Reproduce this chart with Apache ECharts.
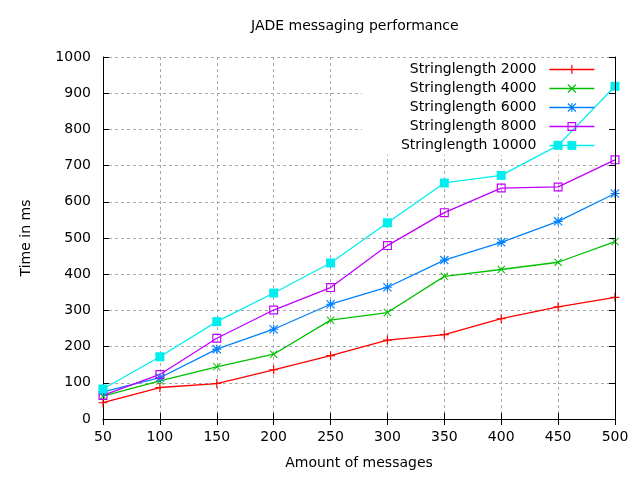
<!DOCTYPE html>
<html>
<head>
<meta charset="utf-8">
<script src="https://cdn.jsdelivr.net/npm/echarts@6/dist/echarts.min.js"></script>
<style>
html, body { margin: 0; padding: 0; background: #fff; }
#chart { width: 640px; height: 480px; }
</style>
</head>
<body>
<div id="chart"></div>
<script>
// message counts on the x axis
var messages = [50, 100, 150, 200, 250, 300, 350, 400, 450, 500];

// time in ms for each string length
var len2000  = [45, 87, 98, 136, 175, 218, 233, 277, 310, 336];
var len4000  = [63, 105, 144, 179, 273, 294, 394, 413, 433, 490];
var len6000  = [75, 114, 193, 248, 317, 364, 439, 488, 546, 623];
var len8000  = [65, 123, 223, 301, 363, 479, 570, 638, 641, 716];
var len10000 = [83, 172, 269, 348, 431, 542, 652, 673, 756, 919];

var seriesNames = ['Stringlength 2000', 'Stringlength 4000', 'Stringlength 6000',
                   'Stringlength 8000', 'Stringlength 10000'];

var FONT = 'DejaVu Sans';

// gnuplot style point shapes
var P = 'M8.7,0h2.6v20h-2.6z M0,8.7h20v2.6h-20z';
var X = 'M0,1.8L1.8,0L20,18.2L18.2,20Z M18.2,0L20,1.8L1.8,20L0,18.2Z';
var PLUS = 'path://' + P;
var CROSS = 'path://' + X;
var STAR = 'path://' + P + ' ' + X;
var BOX = 'path://M0,0H20V20H0Z M2.6,2.6V17.4H17.4V2.6Z';

function pairs(ys) {
    return messages.map(function (x, i) { return [x, ys[i]]; });
}

function makeLine(name, ys, color, symbol, size) {
    return {
        name: name,
        type: 'line',
        data: pairs(ys),
        symbol: symbol,
        symbolSize: size,
        showSymbol: true,
        xAxisIndex: 0,
        yAxisIndex: 0,
        lineStyle: { color: color, width: 1.3 },
        itemStyle: { color: color, borderWidth: 0 },
        emphasis: { disabled: true },
        z: 2
    };
}

var myChart = echarts.init(document.getElementById('chart'));

var option = {
    animation: false,
    backgroundColor: '#fff',
    title: {
        text: 'JADE messaging performance',
        left: 251,
        top: 19,
        padding: 0,
        textStyle: { fontFamily: FONT, fontSize: 14, fontWeight: 'normal', color: '#000' }
    },
    grid: { left: 103, right: 25, top: 57, bottom: 61 },
    legend: {
        orient: 'vertical',
        align: 'right',
        right: 45,
        top: 60,
        padding: 0,
        itemGap: 0,
        itemWidth: 45,
        itemHeight: 11,
        data: seriesNames,
        lineStyle: { width: 1.3 },
        textStyle: { fontFamily: FONT, fontSize: 14, color: '#000', lineHeight: 19, padding: [0, 8, 0, 0] }
    },
    // white key box that blanks the grid behind the legend
    graphic: [{
        type: 'rect',
        z: 1,
        shape: { x: 362, y: 58, width: 252, height: 97 },
        style: { fill: '#fff' },
        silent: true
    }],
    xAxis: [{
        type: 'value',
        min: 50, max: 500, interval: 50,
        name: 'Amount of messages',
        nameLocation: 'middle',
        nameGap: 37,
        nameTextStyle: { fontFamily: FONT, fontSize: 14, color: '#000' },
        z: 0,
        axisLine: { lineStyle: { color: '#000', width: 1 } },
        axisTick: { inside: true, length: 6, lineStyle: { color: '#000' } },
        axisLabel: { fontFamily: FONT, fontSize: 14, color: '#000', margin: 11 },
        splitLine: { show: true, lineStyle: { color: '#a8a8a8', type: [3, 3], width: 1 } }
    }, {
        type: 'value',
        position: 'top',
        min: 50, max: 500, interval: 50,
        z: 3,
        axisLine: { lineStyle: { color: '#000', width: 1 } },
        axisTick: { inside: true, length: 6, lineStyle: { color: '#000' } },
        axisLabel: { show: false },
        splitLine: { show: false }
    }],
    yAxis: [{
        type: 'value',
        min: 0, max: 1000, interval: 100,
        name: 'Time in ms',
        nameLocation: 'middle',
        nameGap: 70,
        nameTextStyle: { fontFamily: FONT, fontSize: 14, color: '#000' },
        z: 0,
        axisLine: { show: true, lineStyle: { color: '#000', width: 1 } },
        axisTick: { show: true, inside: true, length: 6, lineStyle: { color: '#000' } },
        axisLabel: {
            fontFamily: FONT, fontSize: 14, color: '#000', margin: 12,
            formatter: function (v) { return String(v); }
        },
        splitLine: { show: true, lineStyle: { color: '#a8a8a8', type: [3, 3], width: 1 } }
    }, {
        type: 'value',
        position: 'right',
        min: 0, max: 1000, interval: 100,
        z: 3,
        axisLine: { show: true, lineStyle: { color: '#000', width: 1 } },
        axisTick: { show: true, inside: true, length: 6, lineStyle: { color: '#000' } },
        axisLabel: { show: false },
        splitLine: { show: false }
    }],
    series: [
        makeLine(seriesNames[0], len2000, '#ff0000', PLUS, 9),
        makeLine(seriesNames[1], len4000, '#00c000', CROSS, 8),
        makeLine(seriesNames[2], len6000, '#0080ff', STAR, 9),
        makeLine(seriesNames[3], len8000, '#c000ff', BOX, 9),
        makeLine(seriesNames[4], len10000, '#00eeee', 'rect', 9)
    ]
};

myChart.setOption(option);
</script>
</body>
</html>
